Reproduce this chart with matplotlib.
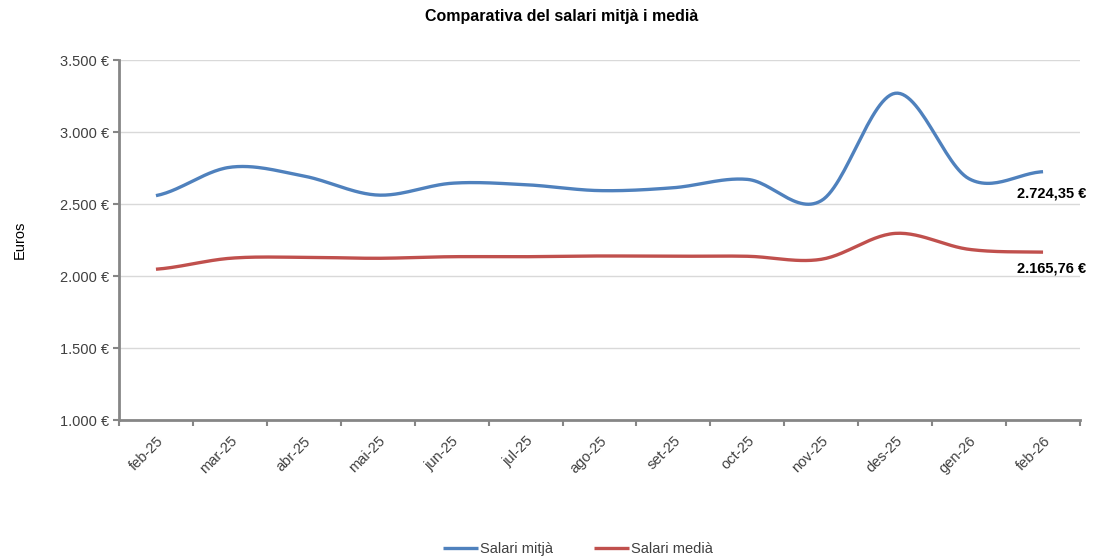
import numpy as np
import matplotlib.pyplot as plt
from matplotlib.ticker import FuncFormatter

plt.rcParams['font.family'] = ['Liberation Sans', 'DejaVu Sans']

months = ['feb-25', 'mar-25', 'abr-25', 'mai-25', 'jun-25', 'jul-25', 'ago-25',
          'set-25', 'oct-25', 'nov-25', 'des-25', 'gen-26', 'feb-26']
salari_mitja = [2558, 2755, 2694, 2562, 2644, 2634, 2593, 2613, 2671, 2523, 3269, 2675, 2724.35]
salari_media = [2047, 2123, 2130, 2123, 2134, 2134, 2139, 2137, 2137, 2116, 2296, 2185, 2165.76]

BLUE = '#4F81BD'
RED = '#C0504D'
GRAY = '#404040'


def smooth(y, n=30):
    # Excel-style smoothed line (uniform Catmull-Rom through the points)
    y = np.asarray(y, dtype=float)
    x = np.arange(len(y), dtype=float)
    px = np.concatenate([[2 * x[0] - x[1]], x, [2 * x[-1] - x[-2]]])
    py = np.concatenate([[y[0]], y, [y[-1]]])
    xs, ys = [], []
    t = np.linspace(0, 1, n)
    for i in range(1, len(px) - 2):
        p0, p1, p2, p3 = py[i - 1], py[i], py[i + 1], py[i + 2]
        q0, q1, q2, q3 = px[i - 1], px[i], px[i + 1], px[i + 2]
        b1 = p1 + (p2 - p0) / 6
        b2 = p2 - (p3 - p1) / 6
        c1 = q1 + (q2 - q0) / 6
        c2 = q2 - (q3 - q1) / 6
        ys.append((1 - t)**3 * p1 + 3 * (1 - t)**2 * t * b1 + 3 * (1 - t) * t**2 * b2 + t**3 * p2)
        xs.append((1 - t)**3 * q1 + 3 * (1 - t)**2 * t * c1 + 3 * (1 - t) * t**2 * c2 + t**3 * q2)
    return np.concatenate(xs), np.concatenate(ys)


def euro(v, pos=None):
    return f'{v:,.0f}'.replace(',', '.') + ' €'


def euro2(v):
    return f'{v:,.2f}'.replace(',', 'X').replace('.', ',').replace('X', '.') + ' €'


fig = plt.figure(figsize=(10.93, 5.59), dpi=100)
ax = fig.add_axes([119 / 1093, 1 - 420 / 559, (1080 - 119) / 1093, 360 / 559])

xb, yb = smooth(salari_mitja)
xr, yr = smooth(salari_media)
ax.plot(xb, yb, color=BLUE, lw=2.4, solid_capstyle='butt', label='Salari mitjà')
ax.plot(xr, yr, color=RED, lw=2.4, solid_capstyle='butt', label='Salari medià')

ax.set_xlim(-0.5, len(months) - 0.5)
ax.set_ylim(1000, 3500)
ax.set_yticks(np.arange(1000, 3501, 500))
ax.yaxis.set_major_formatter(FuncFormatter(euro))
ax.grid(axis='y', color='#D9D9D9', lw=1)
ax.set_axisbelow(True)

ax.set_xticks(np.arange(len(months)))
ax.set_xticklabels(months, rotation=45, ha='right', rotation_mode='anchor')
ax.set_xticks(np.arange(-0.5, len(months)), minor=True)
ax.tick_params(axis='x', which='major', length=0, pad=10, labelsize=10.5, labelcolor=GRAY)
ax.tick_params(axis='x', which='minor', length=4, width=1.5, color='#868686', direction='out')
ax.tick_params(axis='y', length=4, width=1.5, color='#868686', labelsize=10.5, labelcolor=GRAY, pad=3)

for s in ['top', 'right']:
    ax.spines[s].set_visible(False)
for s in ['left', 'bottom']:
    ax.spines[s].set_color('#868686')
    ax.spines[s].set_linewidth(2)

ax.set_ylabel('Euros', fontsize=10.5, color='black')
ax.yaxis.set_label_coords((27 - 119) / 961, 0.5)

last = len(months) - 1
for vals, dy in ((salari_mitja, -16), (salari_media, -12)):
    v = vals[-1]
    ax.annotate(euro2(v), xy=(last, v), xytext=(31, dy), textcoords='offset points',
                ha='right', va='center', fontsize=10.5, fontweight='bold', color='black',
                annotation_clip=False)

fig.text(562 / 1093, 1 - 17 / 559, 'Comparativa del salari mitjà i medià',
         ha='center', va='center', fontsize=11.5, fontweight='bold')

fig.legend(loc='center', bbox_to_anchor=(578 / 1093, 1 - 549 / 559), ncol=2, frameon=False,
           fontsize=10.5, handlelength=2.4, columnspacing=2.8, handletextpad=0.15,
           labelcolor=GRAY)

fig.savefig('out.png', dpi=100)
